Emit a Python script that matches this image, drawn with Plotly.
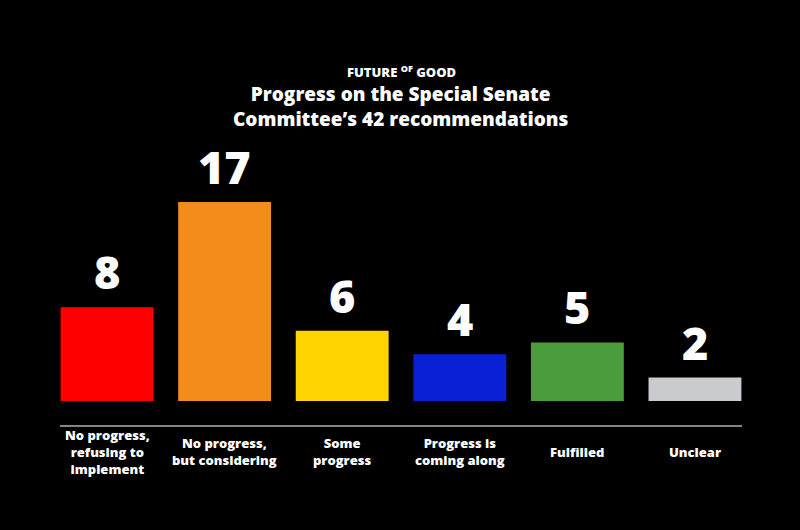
import plotly.graph_objects as go

# data
categories = [
    "No progress,<br>refusing to<br>implement",
    "No progress,<br>but considering",
    "Some<br>progress",
    "Progress is<br>coming along",
    "Fulfilled",
    "Unclear",
]
values = [8, 17, 6, 4, 5, 2]
colors = ["#FF0000", "#F28C1A", "#FFD400", "#0A20D4", "#4A9D3A", "#C9CBCE"]

FONT = "Open Sans, Lato, DejaVu Sans, sans-serif"

fig = go.Figure()
fig.add_trace(go.Bar(
    x=list(range(len(values))),
    y=values,
    marker=dict(color=colors, line=dict(width=0)),
    width=0.79,
    hoverinfo="skip",
))

# big value labels above each bar
for i, v in enumerate(values):
    fig.add_annotation(
        x=i, y=v, text=str(v), showarrow=False,
        yanchor="bottom", yshift=3,
        font=dict(family=FONT, size=45, color="white", weight=800),
    )

# category labels under the axis line, centred vertically
for i, c in enumerate(categories):
    fig.add_annotation(
        x=i, y=-0.093, yref="paper", text=c, showarrow=False,
        yanchor="middle", align="center",
        font=dict(family=FONT, size=13, color="white", weight=800),
    )

# logo + title
fig.add_annotation(
    x=0.5, y=1.242, xref="paper", yref="paper", yanchor="middle",
    text="FUTURE <sup>OF</sup> GOOD", showarrow=False,
    font=dict(family=FONT, size=13, color="white", weight=800),
)
fig.add_annotation(
    x=0.5, y=1.119, xref="paper", yref="paper", yanchor="middle",
    text="Progress on the Special Senate<br>Committee’s 42 recommendations",
    showarrow=False, align="center",
    font=dict(family=FONT, size=19, color="white", weight=800),
)

fig.update_layout(
    width=800,
    height=530,
    paper_bgcolor="black",
    plot_bgcolor="black",
    showlegend=False,
    margin=dict(l=60, r=58, t=140, b=105),
)
fig.update_xaxes(
    range=[-0.4, 5.4], showticklabels=False, showgrid=False, zeroline=False,
    showline=True, linecolor="#858585", linewidth=1.5,
)
fig.update_yaxes(
    range=[-2.05, 22.3], visible=False, showgrid=False, zeroline=False,
)

fig.write_html(
    "out.html",
    config={"displayModeBar": False},
    post_script="document.body.style.margin='0';document.body.style.background='black';",
)
